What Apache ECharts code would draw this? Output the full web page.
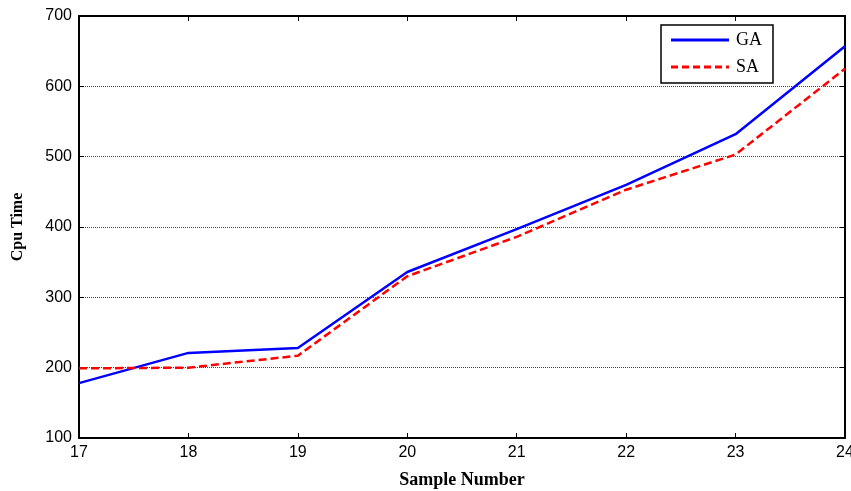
<!DOCTYPE html>
<html>
<head>
<meta charset="utf-8">
<script src="https://cdn.jsdelivr.net/npm/echarts@6/dist/echarts.min.js"></script>
<style>
  html, body { margin: 0; padding: 0; background: #fff; }
  #chart { width: 851px; height: 491px; }
</style>
</head>
<body>
<div id="chart"></div>
<script>
var samples = [17, 18, 19, 20, 21, 22, 23, 24];
var gaTime = [178, 221, 228, 336, 397, 460, 532, 657];
var saTime = [199, 200, 217, 330, 386, 453, 503, 625];

function pairs(xs, ys) {
  var out = [];
  for (var i = 0; i < xs.length; i++) {
    out.push([xs[i], ys[i]]);
  }
  return out;
}

// legend samples: a solid bar and a dashed one
var solidIcon = 'path://M0,0h58v3h-58z';
var dashedIcon = 'path://M0,0h7v3h-7zM11,0h7v3h-7zM22,0h7v3h-7zM33,0h7v3h-7zM44,0h7v3h-7zM55,0h3v3h-3z';

var chart = echarts.init(document.getElementById('chart'));

var axisLine = { show: true, lineStyle: { color: '#000', width: 2 } };
var tickIn = { show: true, inside: true, length: 5, lineStyle: { color: '#000', width: 1 } };

var option = {
  animation: false,
  grid: { left: 79, right: 6, top: 16, bottom: 53, outerBoundsMode: 'none' },
  legend: {
    orient: 'vertical',
    left: 661,
    top: 25,
    itemWidth: 58,
    itemHeight: 3,
    itemGap: 9,
    padding: [6, 11, 7, 10],
    borderColor: '#000',
    borderWidth: 1.5,
    backgroundColor: '#fff',
    textStyle: { fontFamily: 'Liberation Serif', fontSize: 18, color: '#000', padding: [0, 0, 0, 2] },
    data: [
      { name: 'GA', icon: solidIcon, itemStyle: { color: '#0000ff' } },
      { name: 'SA', icon: dashedIcon, itemStyle: { color: '#ff0000' } }
    ]
  },
  xAxis: [{
    type: 'value',
    min: 17, max: 24, interval: 1,
    name: 'Sample Number',
    nameLocation: 'middle',
    nameGap: 33,
    nameTextStyle: { fontFamily: 'Liberation Serif', fontWeight: 'bold', fontSize: 18, color: '#000' },
    axisLine: axisLine,
    axisTick: tickIn,
    axisLabel: { fontFamily: 'Liberation Sans', fontSize: 16, color: '#000', margin: 7 },
    splitLine: { show: false }
  }, {
    type: 'value',
    position: 'top',
    min: 17, max: 24, interval: 1,
    axisLine: axisLine,
    axisTick: tickIn,
    axisLabel: { show: false },
    splitLine: { show: false }
  }],
  yAxis: [{
    type: 'value',
    min: 100, max: 700, interval: 100,
    name: 'Cpu Time',
    nameLocation: 'middle',
    nameGap: 53,
    nameTextStyle: { fontFamily: 'Liberation Serif', fontWeight: 'bold', fontSize: 16, color: '#000' },
    axisLine: axisLine,
    axisTick: tickIn,
    axisLabel: { fontFamily: 'Liberation Sans', fontSize: 16, color: '#000', margin: 7 },
    splitLine: { show: true, lineStyle: { color: '#444', type: 'dotted', width: 1 } }
  }, {
    type: 'value',
    position: 'right',
    min: 100, max: 700, interval: 100,
    axisLine: axisLine,
    axisTick: tickIn,
    axisLabel: { show: false },
    splitLine: { show: false }
  }],
  series: [{
    name: 'GA',
    type: 'line',
    symbol: 'none',
    color: '#0000ff',
    lineStyle: { color: '#0000ff', width: 2.5 },
    data: pairs(samples, gaTime)
  }, {
    name: 'SA',
    type: 'line',
    symbol: 'none',
    color: '#ff0000',
    lineStyle: { color: '#ff0000', width: 2.5, type: [8, 4] },
    data: pairs(samples, saTime)
  }]
};

chart.setOption(option);
</script>
</body>
</html>
